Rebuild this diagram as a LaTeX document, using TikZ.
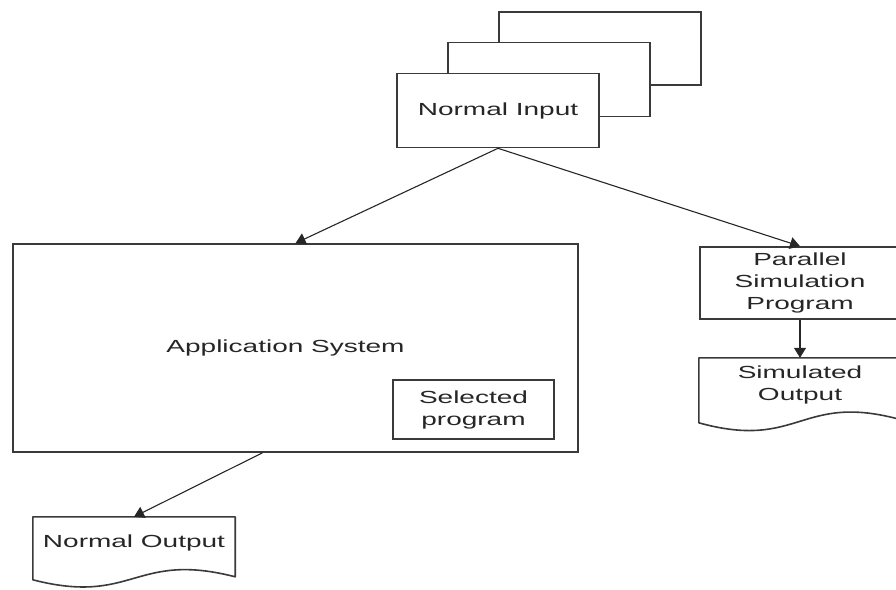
\documentclass[tikz,border=0pt]{standalone}
\usepackage{fontspec}
\newfontfamily\diagfont[FakeStretch=1.6]{Liberation Sans}
\usetikzlibrary{arrows.meta, positioning, calc}
\definecolor{lineg}{HTML}{3A3A3A}
\definecolor{textg}{HTML}{262626}

\begin{document}
\begin{tikzpicture}[
  x=1pt, y=-1pt,
  node distance=38pt,
  every node/.style={font=\diagfont\fontsize{17.5}{22}\selectfont, text=textg},
  box/.style={rectangle, draw=lineg, fill=white, line width=1.6pt, minimum width=#1, align=center, inner sep=0pt},
  doc/.style={rectangle, minimum width=202pt, align=center, inner sep=0pt},
  docline/.style={draw=lineg, line width=1.6pt, line join=round},
  arrow/.style={-{Triangle[length=10pt, width=12pt]}, line width=1.1pt, black!85},
]
\useasboundingbox (0,0) rectangle (896,589);

% stacked input cards
\node[box=202pt, minimum height=73pt] (stack2) at (600,48.5) {};
\node[box=202pt, minimum height=74pt] (stack1) at ($(stack2)+(-51,31)$) {};
\node[box=202pt, minimum height=74pt] (in) at ($(stack1)+(-51,31)$) {Normal Input};

\node[box=565pt, minimum height=208pt] (app) at (295.5,348) {Application System\hspace*{20pt}};
\node[box=161pt, minimum height=59pt] (sel) at (473.5,409.5) {Selected\\program};

\node[box=200pt, minimum height=72pt] (par) at (800,283) {Parallel\\Simulation\\Program};
\node[doc, minimum height=54pt, below=of par] (sim) {Simulated\\Output};
\node[doc, minimum height=52pt] (nout) at (134,543) {Normal Output};

% document outlines
\draw[docline] (sim.north west) -- (sim.north east) -- ++(0,62)
  .. controls +(-101,-28) and +(101,28) .. ($(sim.north west)+(0,65)$) -- cycle;
\draw[docline] (nout.north west) -- (nout.north east) -- ++(0,60)
  .. controls +(-101,-26) and +(101,26) .. ($(nout.north west)+(0,63)$) -- cycle;

\draw[arrow] (in.south) -- (app.north);
\draw[arrow] (in.south) -- (par.north);
\draw[arrow] (par) -- (sim);
\draw[arrow] ([xshift=-33pt]app.south) -- (nout.north);
\end{tikzpicture}
\end{document}
